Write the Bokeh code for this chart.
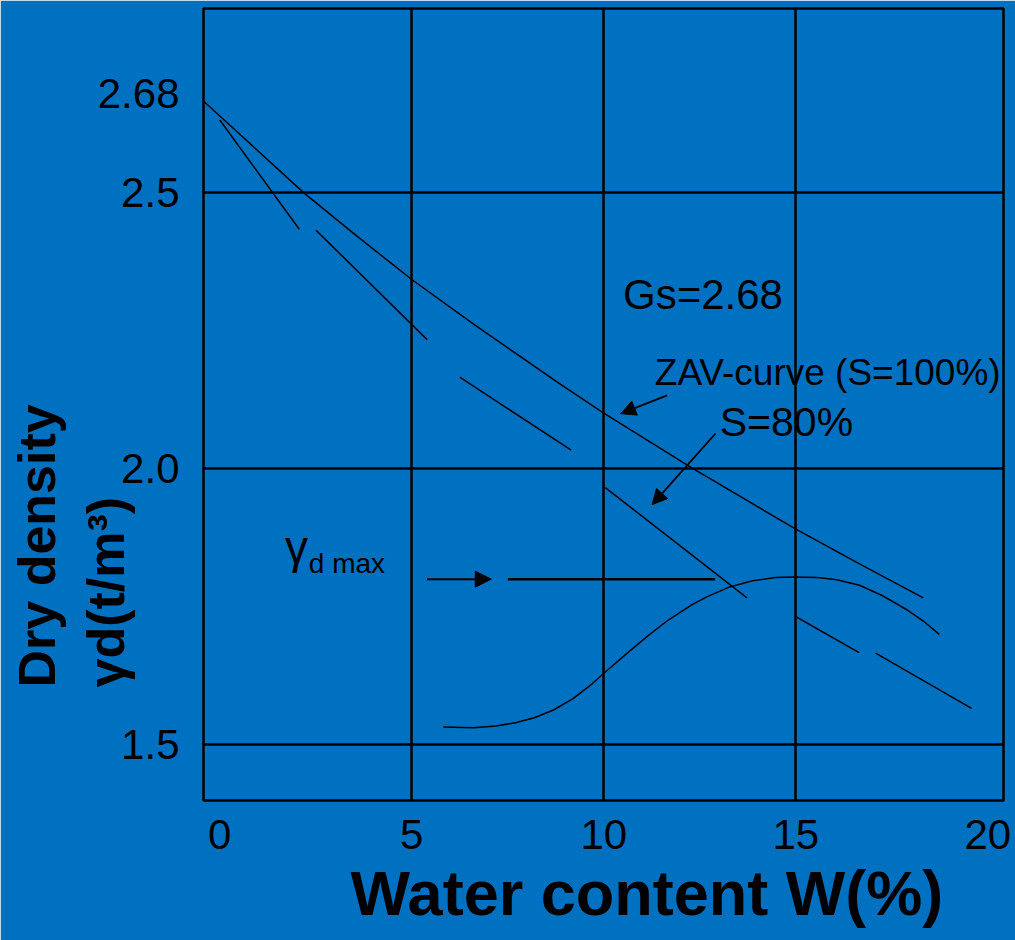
import re
from bokeh.plotting import figure
from bokeh.models import Range1d, FixedTicker, Label, Arrow, NormalHead, Title
from bokeh.embed import file_html
from bokeh.resources import INLINE

# ---------------- data ----------------
x_ticks = [0, 5, 10, 15, 20]
y_ticks = [1.5, 2.0, 2.5, 2.68]
y_tick_labels = ["1.5", "2.0", "2.5", "2.68"]
x_grid = [5, 10, 15]
y_grid = [1.5, 2.0, 2.5]

# Zero-air-voids curve (S = 100 %)
zav_w = [-0.42, 2.19, 3.58, 5.0, 6.61, 8.79, 10.0, 12.26, 14.99, 16.6, 18.32]
zav_gd = [2.666, 2.500, 2.421, 2.343, 2.262, 2.157, 2.101, 2.003, 1.891, 1.830, 1.766]

# S = 80 % curve (drawn as separate dashes)
s80_w0 = [0.00, 2.51, 6.25, 10.04, 15.03, 17.08]
s80_gd0 = [2.632, 2.432, 2.166, 1.966, 1.731, 1.666]
s80_w1 = [2.07, 5.40, 9.15, 13.73, 16.65, 19.58]
s80_gd1 = [2.434, 2.234, 2.034, 1.766, 1.667, 1.566]

# Compaction curve
comp_w = [5.82, 6.60, 7.20, 7.70, 8.19, 8.69, 9.19, 9.69, 10.01, 10.68, 11.18, 11.68,
          12.28, 12.68, 13.28, 13.87, 14.47, 14.97, 15.57, 16.07, 16.66, 17.26, 17.86,
          18.36, 18.74]
comp_gd = [1.532, 1.531, 1.534, 1.540, 1.549, 1.563, 1.583, 1.610, 1.630, 1.670, 1.699,
           1.726, 1.753, 1.768, 1.786, 1.797, 1.803, 1.804, 1.803, 1.799, 1.789, 1.770,
           1.746, 1.722, 1.700]

# maximum dry density marker
gd_max = 1.800
gd_max_line_w = [7.50, 12.90]
gd_max_arrow_w = [5.40, 7.07]

# annotation arrows (tail -> tip)
zav_arrow = [11.65, 2.133, 10.44, 2.100]
s80_arrow = [12.91, 2.064, 11.26, 1.935]

# ---------------- styling ----------------
BLUE = "#0070C0"
FONT = "Liberation Sans"

p = figure(width=1015, height=940,
           x_range=Range1d(-0.424, 20.41), y_range=Range1d(1.399, 2.834),
           output_backend="svg", toolbar_location=None,
           min_border_left=203, min_border_right=12, min_border_top=8, min_border_bottom=140,
           background_fill_color=BLUE, border_fill_color=BLUE,
           outline_line_color="black", outline_line_width=2.5)

for ax in (p.xaxis[0], p.yaxis[0]):
    ax.axis_line_color = None
    ax.major_tick_line_color = None
    ax.minor_tick_line_color = None
    ax.major_tick_out = 0
    ax.major_tick_in = 0
    ax.major_label_text_font = FONT
    ax.major_label_text_font_size = "42px"
    ax.major_label_text_color = "black"

p.xaxis.ticker = FixedTicker(ticks=x_ticks)
p.xaxis.major_label_standoff = 19
p.yaxis.ticker = FixedTicker(ticks=y_ticks)
p.yaxis.major_label_overrides = {v: s for v, s in zip(y_ticks, y_tick_labels)}
p.yaxis.major_label_standoff = 24

p.xgrid.ticker = FixedTicker(ticks=x_grid)
p.ygrid.ticker = FixedTicker(ticks=y_grid)
p.grid.grid_line_color = "black"
p.grid.grid_line_width = 2.5
p.grid.grid_line_alpha = 1.0

# curves
p.line(zav_w, zav_gd, line_color="black", line_width=1.5)
p.segment(x0=s80_w0, y0=s80_gd0, x1=s80_w1, y1=s80_gd1, line_color="black", line_width=1.5)
p.line(comp_w, comp_gd, line_color="black", line_width=1.5)
p.line(gd_max_line_w, [gd_max, gd_max], line_color="black", line_width=2.5)

# arrows
def arrow(x0, y0, x1, y1, size=15, width=1.8):
    p.add_layout(Arrow(end=NormalHead(size=size, fill_color="black", line_color="black", line_width=1),
                       x_start=x0, y_start=y0, x_end=x1, y_end=y1,
                       line_color="black", line_width=width))

arrow(gd_max_arrow_w[0], gd_max, gd_max_arrow_w[1], gd_max, size=16, width=2)
arrow(*zav_arrow)
arrow(*s80_arrow)

# in-plot texts (anchor = vertical middle of the text box)
def label(x, y, text, size):
    p.add_layout(Label(x=x, y=y, text=text, text_font=FONT, text_font_size=size,
                       text_color="black", text_align="left", text_baseline="middle"))

label(10.50, 2.315, "Gs=2.68", "42px")
label(11.33, 2.175, "ZAV-curve (S=100%)", "37px")
label(13.02, 2.084, "S=80%", "41px")
label(1.70, 1.858, "γ", "46px")
label(2.32, 1.828, "d max", "28px")

# axis titles
p.add_layout(Title(text="Dry density\nγd(t/m³)", align="left", vertical_align="bottom",
                   offset=113, standoff=-82, text_font=FONT, text_font_size="52px",
                   text_font_style="bold", text_color="black", text_line_height=1.2), "left")
p.add_layout(Title(text="Water content W(%)", align="left", vertical_align="top",
                   offset=147, standoff=13, text_font=FONT, text_font_size="63px",
                   text_font_style="bold", text_color="black"), "below")

html = file_html(p, INLINE)
html = re.sub(r"<body([^>]*)>", r'<body\1 style="background-color:#0070C0;">', html, count=1)
open("out.html", "w").write(html)
